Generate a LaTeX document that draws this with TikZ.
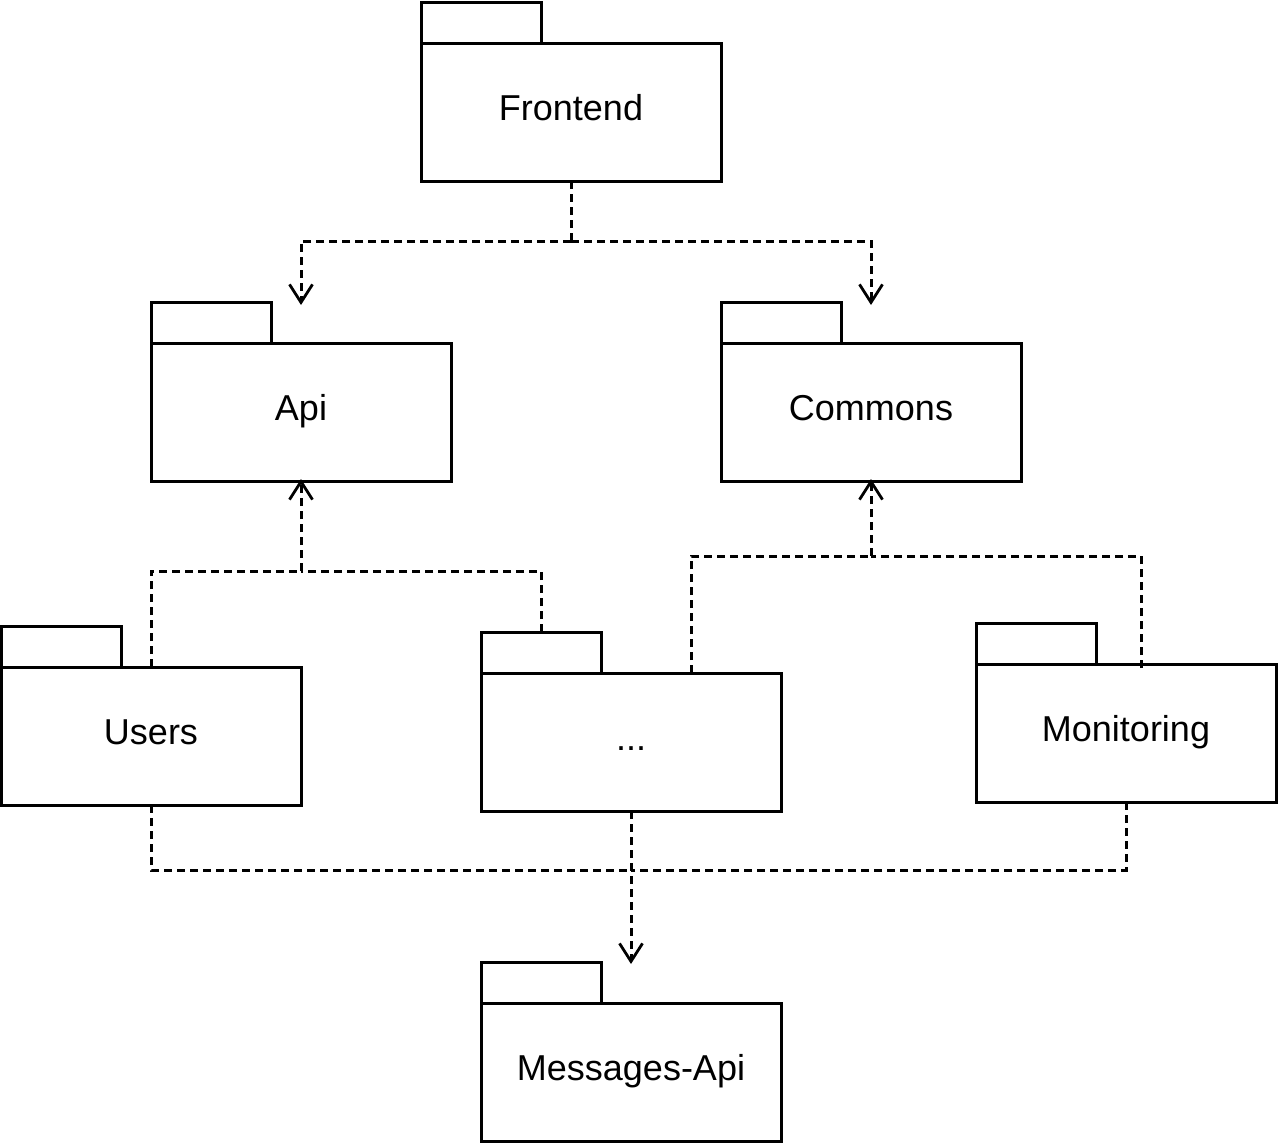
\documentclass[tikz,border=0pt]{standalone}
\usepackage{fontspec}
\setmainfont{Liberation Sans}
\usetikzlibrary{arrows.meta}
\begin{document}
\begin{tikzpicture}[x=1pt,y=-1pt,
  pkgbody/.style={draw=black,line width=3pt,outer sep=0pt,minimum width=300pt,minimum height=138pt,inner sep=0pt,
    font=\fontsize{36}{43}\selectfont,text height=25pt,text depth=9pt},
  pkgtab/.style={draw=black,line width=3pt,outer sep=0pt,minimum width=120pt,minimum height=41pt,inner sep=0pt,anchor=south west},
  dep/.style={draw=black,line width=3pt,dash pattern=on 8pt off 5pt},
  deparrow/.style={dep,-{Straight Barb[length=18pt,width=23pt,line width=2.8pt]}}]
\useasboundingbox (0,0) rectangle (1278,1143);
% packages
\node[pkgbody] (fe) at (571,112) {Frontend};
\node[pkgtab] (fetab) at (fe.north west) {};
\node[pkgbody] (api) at (301,412) {Api};
\node[pkgtab] (apitab) at (api.north west) {};
\node[pkgbody] (com) at (871,412) {Commons};
\node[pkgtab] (comtab) at (com.north west) {};
\node[pkgbody] (users) at (151,736) {Users};
\node[pkgtab] (userstab) at (users.north west) {};
\node[pkgbody] (dots) at (631,742) {...};
\node[pkgtab] (dotstab) at (dots.north west) {};
\node[pkgbody] (mon) at (1126,733) {Monitoring};
\node[pkgtab] (montab) at (mon.north west) {};
\node[pkgbody] (msg) at (631,1072) {Messages-Api};
\node[pkgtab] (msgtab) at (msg.north west) {};
% junctions
\coordinate (jfe) at (571,241);
\coordinate (japi) at (301,571);
\coordinate (jcom) at (871,556);
\coordinate (jmsg) at (631,870);
% Frontend -> Api, Commons
\draw[dep] (fe.south) -- (jfe);
\draw[deparrow] (jfe) -| ([yshift=-3pt]api.north |- apitab.north);
\draw[deparrow] (jfe) -| ([yshift=-3pt]com.north |- comtab.north);
% Users, ... -> Api
\draw[dep] (users.north) |- (japi);
\draw[dep] (dotstab.north) |- (japi);
\draw[deparrow] (japi) -- ([yshift=2pt]api.south);
% ..., Monitoring -> Commons
\draw[dep] ([xshift=60pt]dots.north) |- (jcom);
\draw[dep] ([xshift=15pt,yshift=-4pt]mon.north) |- (jcom);
\draw[deparrow] (jcom) -- ([yshift=2pt]com.south);
% Users, ..., Monitoring -> Messages-Api
\draw[dep] (users.south) |- (jmsg);
\draw[dep] (mon.south) |- (jmsg);
\draw[deparrow] (dots.south) -- ([yshift=-2pt]msg.north |- msgtab.north);
\end{tikzpicture}
\end{document}
